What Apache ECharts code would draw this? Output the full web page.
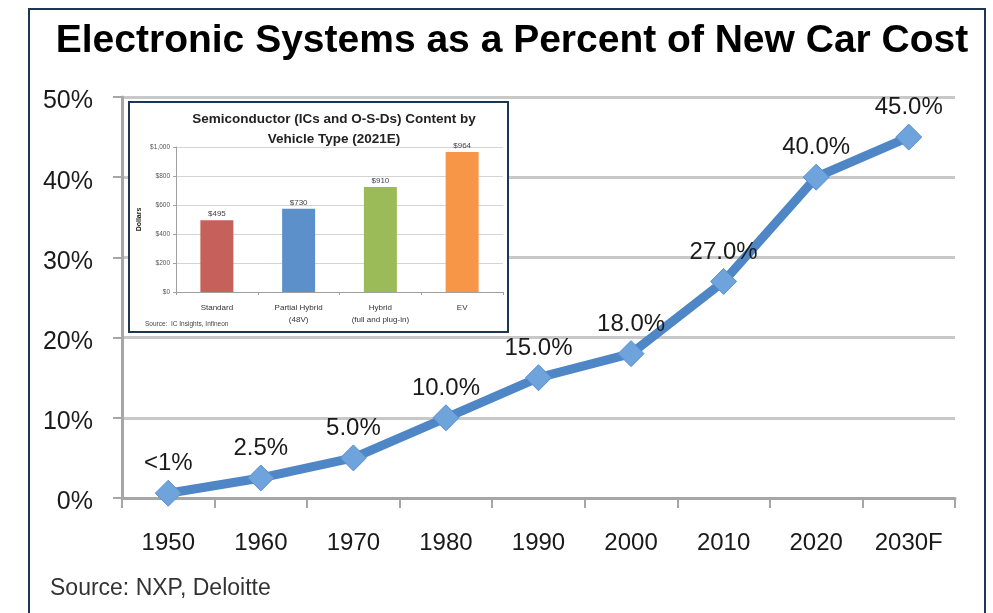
<!DOCTYPE html>
<html><head><meta charset="utf-8">
<script src="https://cdn.jsdelivr.net/npm/echarts@6/dist/echarts.min.js"></script>
<style>html,body{margin:0;padding:0;background:#fff}#c{width:993px;height:613px}</style>
</head><body><div id="c"></div>
<script>
// Main chart data
const years = ['1950','1960','1970','1980','1990','2000','2010','2020','2030F'];
const percentValues = [0.6, 2.5, 5.0, 10.0, 15.0, 18.0, 27.0, 40.0, 45.0];
const percentLabels = ['<1%','2.5%','5.0%','10.0%','15.0%','18.0%','27.0%','40.0%','45.0%'];
const yTicks = [0, 10, 20, 30, 40, 50];

// Inset chart data
const vehicleTypes = ['Standard', 'Partial Hybrid\n(48V)', 'Hybrid\n(full and plug-in)', 'EV'];
const barHeights = [495, 575, 725, 965];
const barLabels = ['$495', '$730', '$910', '$964'];
const barColors = ['#c6605b', '#5b90cb', '#9bbb59', '#f79646'];

const F = "'Liberation Sans', Arial, sans-serif";
const chart = echarts.init(document.getElementById('c'));
chart.setOption({
  animation: false,
  backgroundColor: '#fff',
  graphic: [
    {type: 'rect', shape: {x: 29, y: 9, width: 956, height: 620}, style: {fill: 'none', stroke: '#1d3750', lineWidth: 2}, z: 0},
    {type: 'text', x: 512, y: 22, style: {text: 'Electronic Systems as a Percent of New Car Cost', font: "bold 39px " + F, fill: '#000', align: 'center'}, z: 1},
    {type: 'text', left: 50, top: 577, style: {text: 'Source: NXP, Deloitte', font: "23px " + F, fill: '#333'}, z: 1},
    {type: 'rect', shape: {x: 129, y: 102, width: 379, height: 230}, style: {fill: '#fff', stroke: '#1d3750', lineWidth: 2}, z: 5},
    {type: 'text', x: 334, y: 109, style: {text: 'Semiconductor (ICs and O-S-Ds) Content by\nVehicle Type (2021E)', font: "bold 13.5px " + F, fill: '#222', align: 'center', lineHeight: 20}, z: 11},
    {type: 'text', x: 145, y: 321, style: {text: 'Source:  IC Insights, Infineon', font: "6.5px " + F, fill: '#444'}, z: 11}
  ],
  grid: [
    {left: 122, right: 38, top: 97, bottom: 115},
    {left: 176, top: 147, width: 327, height: 145}
  ],
  xAxis: [
    {type: 'category', gridIndex: 0, data: years, boundaryGap: true,
     axisLine: {lineStyle: {color: '#a6a6a6', width: 3}},
     axisTick: {show: true, length: 10, lineStyle: {color: '#a6a6a6', width: 2}},
     axisLabel: {color: '#1a1a1a', fontSize: 24, fontFamily: F, margin: 33}},
    {type: 'category', gridIndex: 1, data: vehicleTypes, z: 10,
     axisLine: {lineStyle: {color: '#a0a0a0', width: 1}},
     axisTick: {show: true, length: 3, lineStyle: {color: '#a0a0a0'}},
     axisLabel: {color: '#333', fontSize: 8, fontFamily: F, margin: 10, lineHeight: 12}}
  ],
  yAxis: [
    {type: 'value', gridIndex: 0, min: 0, max: 50, interval: 10,
     axisLine: {show: true, lineStyle: {color: '#a6a6a6', width: 3}},
     axisTick: {show: true, length: 9, lineStyle: {color: '#a6a6a6', width: 2}},
     splitLine: {lineStyle: {color: '#c8c8c8', width: 3}},
     axisLabel: {margin: 29, formatter: v => '{a|' + v + '%}',
       rich: {a: {color: '#1a1a1a', fontSize: 25, fontFamily: F, padding: [9, 0, 0, 0]}}}},
    {type: 'value', gridIndex: 1, min: 0, max: 1000, interval: 200, z: 10,
     name: 'Dollars', nameLocation: 'middle', nameGap: 33, nameRotate: 90,
     nameTextStyle: {fontSize: 7, fontWeight: 'bold', color: '#222', fontFamily: F},
     axisLine: {show: true, lineStyle: {color: '#a0a0a0', width: 1}},
     axisTick: {show: true, length: 3, lineStyle: {color: '#a0a0a0'}},
     splitLine: {lineStyle: {color: '#d4d4d4', width: 1}},
     axisLabel: {color: '#555', fontSize: 6.5, fontFamily: F, margin: 6,
       formatter: v => '$' + (v >= 1000 ? v.toLocaleString('en-US') : v)}}
  ],
  series: [
    {type: 'line', xAxisIndex: 0, yAxisIndex: 0, data: percentValues, z: 3,
     lineStyle: {color: '#4f86c6', width: 9},
     symbol: 'diamond', symbolSize: 26,
     itemStyle: {color: '#6fa3dc', borderColor: '#5a90cf', borderWidth: 1},
     label: {show: true, position: 'top', distance: 4, color: '#1a1a1a', fontSize: 24, fontFamily: F,
       formatter: p => percentLabels[p.dataIndex]}},
    {type: 'bar', xAxisIndex: 1, yAxisIndex: 1, z: 10, barWidth: 33,
     data: barHeights.map((v, i) => ({value: v, itemStyle: {color: barColors[i]}})),
     label: {show: true, position: 'top', distance: 2, color: '#444', fontSize: 8, fontFamily: F,
       formatter: p => barLabels[p.dataIndex]}}
  ]
});
</script></body></html>
